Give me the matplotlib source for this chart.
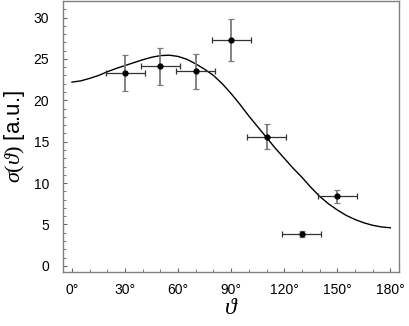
import matplotlib
matplotlib.use("Agg")
import matplotlib.pyplot as plt
from matplotlib.ticker import MultipleLocator, FuncFormatter

plt.rcParams['font.family'] = ['Liberation Sans', 'DejaVu Sans']
plt.rcParams['mathtext.fontset'] = 'custom'
plt.rcParams['mathtext.rm'] = 'Liberation Serif'
plt.rcParams['mathtext.it'] = 'Liberation Serif:italic'

# measured points
theta = [30, 50, 70, 90, 110, 130, 150]
sigma = [23.3, 24.1, 23.5, 27.3, 15.6, 3.8, 8.4]
theta_err = [11, 11, 11, 11, 11, 11, 11]
sigma_err = [2.2, 2.25, 2.15, 2.5, 1.5, 0.35, 0.75]

# fitted curve
curve_theta = [0, 5, 10, 15, 20, 25, 30, 35, 40, 45, 50, 55, 60, 65, 70, 75,
               80, 85, 90, 95, 100, 105, 110, 115, 120, 125, 130, 135, 140,
               145, 150, 155, 160, 165, 170, 175, 180]
curve_sigma = [22.2, 22.35, 22.65, 23.0, 23.45, 23.85, 24.2, 24.55, 24.9, 25.2,
               25.4, 25.45, 25.3, 24.95, 24.4, 23.75, 23.0, 22.0, 20.8, 19.5,
               18.1, 16.8, 15.5, 14.2, 13.0, 11.8, 10.7, 9.5, 8.4, 7.5, 6.75,
               6.1, 5.6, 5.2, 4.9, 4.7, 4.6]

fig = plt.figure(figsize=(4.09, 3.26), dpi=100)
ax = fig.add_axes([0.154, 0.166, 0.822, 0.831])

ax.plot(curve_theta, curve_sigma, color='black', lw=1.0)
ax.errorbar(theta, sigma, yerr=sigma_err, fmt='none', ecolor='#7a7a7a',
            elinewidth=1.3, capsize=2, capthick=0.9)
ax.errorbar(theta, sigma, xerr=theta_err, fmt='none', ecolor='#333333',
            elinewidth=0.9, capsize=2, capthick=0.9)
ax.plot(theta, sigma, 'o', color='black', ms=3.5)

ax.set_xlim(-5.1, 185)
ax.set_ylim(-0.73, 32.0)
ax.xaxis.set_major_locator(MultipleLocator(30))
ax.xaxis.set_minor_locator(MultipleLocator(10))
ax.yaxis.set_major_locator(MultipleLocator(5))
ax.yaxis.set_minor_locator(MultipleLocator(1))
ax.xaxis.set_major_formatter(FuncFormatter(lambda v, p: f"{v:.0f}\u00b0"))

ax.tick_params(which='both', direction='in', top=False, right=False,
               color='#666666', labelsize=10)
ax.tick_params(which='major', length=3, width=0.8)
ax.tick_params(which='minor', length=2, width=0.6)
ax.tick_params(axis='x', pad=8)
ax.tick_params(axis='y', pad=10)
for s in ax.spines.values():
    s.set_color('#808080')
    s.set_linewidth(1.0)

ax.set_xlabel(r'$\vartheta$', fontsize=17, labelpad=0)
ax.set_ylabel(r'$\sigma(\vartheta)$ [a.u.]', fontsize=16, labelpad=5)

fig.savefig('out.png', dpi=100)
